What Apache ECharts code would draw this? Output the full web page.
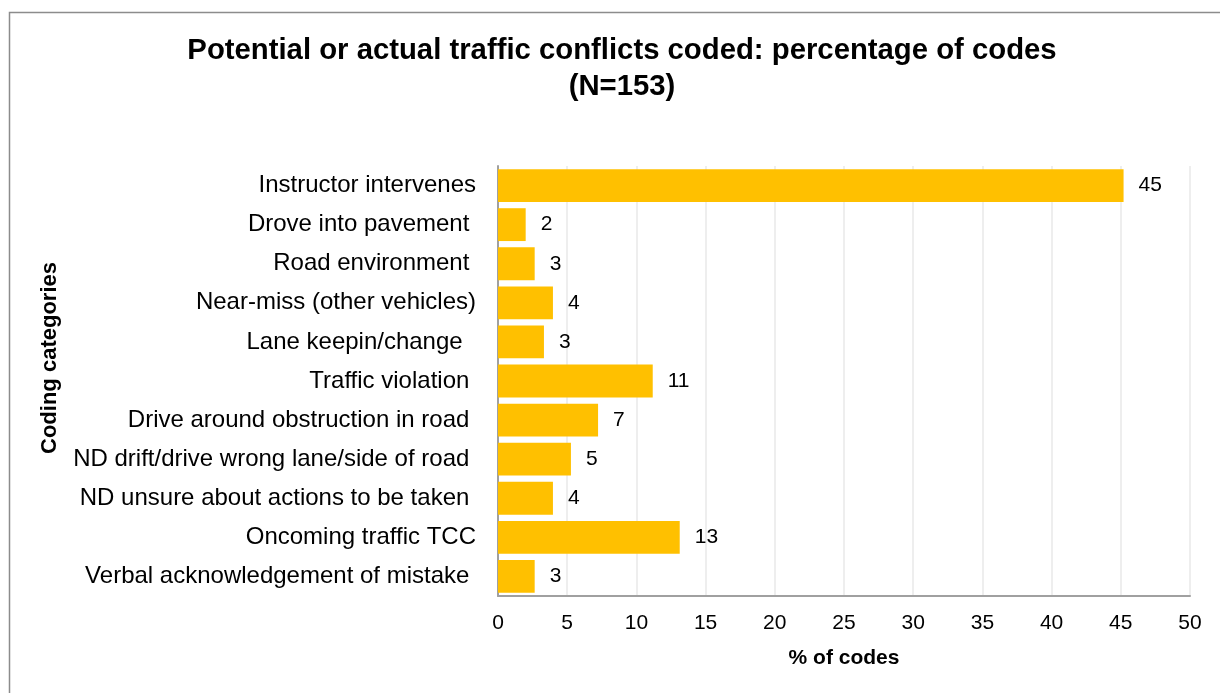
<!DOCTYPE html>
<html>
<head>
<meta charset="utf-8">
<script src="https://cdn.jsdelivr.net/npm/echarts@6/dist/echarts.min.js"></script>
<style>
html,body{margin:0;padding:0;background:#fff;}
#chart{width:1220px;height:693px;}
</style>
</head>
<body>
<div id="chart"></div>
<script>
const titleText = 'Potential or actual traffic conflicts coded: percentage of codes\n(N=153)';
const categories = [
  'Instructor intervenes',
  'Drove into pavement ',
  'Road environment ',
  'Near-miss (other vehicles)',
  'Lane keepin/change  ',
  'Traffic violation ',
  'Drive around obstruction in road ',
  'ND drift/drive wrong lane/side of road ',
  'ND unsure about actions to be taken ',
  'Oncoming traffic TCC',
  'Verbal acknowledgement of mistake '
];
const values = [45.2, 2.0, 2.65, 3.97, 3.32, 11.18, 7.23, 5.27, 3.97, 13.13, 2.65];
const xTicks = [0, 5, 10, 15, 20, 25, 30, 35, 40, 45, 50];
const xAxisTitle = '% of codes';
const yAxisTitle = 'Coding categories';

const FONT = '"Liberation Sans", Arial, sans-serif';
const chart = echarts.init(document.getElementById('chart'), null, {renderer: 'canvas'});
chart.setOption({
  animation: false,
  backgroundColor: '#fff',
  title: {
    text: titleText,
    left: 617,
    top: 28,
    textAlign: 'center',
    textStyle: {fontFamily: FONT, fontSize: 29.3, fontWeight: 'bold', color: '#000', lineHeight: 36}
  },
  graphic: [{
    type: 'rect',
    shape: {x: 9.5, y: 12.5, width: 1230, height: 700},
    style: {fill: 'none', stroke: '#8c8c8c', lineWidth: 1.5},
    silent: true
  }, {
    type: 'text',
    x: 50,
    y: 358,
    rotation: Math.PI / 2,
    style: {
      text: yAxisTitle,
      fontFamily: FONT, fontSize: 22, fontWeight: 'bold', fill: '#000',
      align: 'center', verticalAlign: 'middle'
    },
    silent: true
  }],
  grid: {left: 498, right: 30, top: 166, bottom: 97, containLabel: false},
  xAxis: {
    type: 'value',
    min: xTicks[0],
    max: xTicks[xTicks.length - 1],
    interval: xTicks[1] - xTicks[0],
    name: xAxisTitle,
    nameLocation: 'middle',
    nameGap: 52,
    nameTextStyle: {fontFamily: FONT, fontSize: 21, fontWeight: 'bold', color: '#000'},
    axisLine: {show: true, lineStyle: {color: '#a0a0a0', width: 2}},
    axisTick: {show: false},
    axisLabel: {fontFamily: FONT, fontSize: 21, color: '#000', margin: 17},
    splitLine: {show: true, lineStyle: {color: '#e8e8e8', width: 1.5}}
  },
  yAxis: {
    type: 'category',
    data: categories,
    inverse: true,
    axisLine: {show: true, lineStyle: {color: '#a0a0a0', width: 2}},
    axisTick: {show: false},
    axisLabel: {fontFamily: FONT, fontSize: 24, color: '#000', margin: 22},
    splitLine: {show: false}
  },
  series: [{
    type: 'bar',
    data: values,
    barCategoryGap: '16%',
    itemStyle: {color: '#FFC000'},
    label: {
      show: true,
      position: 'right',
      distance: 15,
      fontFamily: FONT,
      fontSize: 21,
      color: '#000',
      formatter: p => Math.round(p.value)
    }
  }]
});
</script>
</body>
</html>
